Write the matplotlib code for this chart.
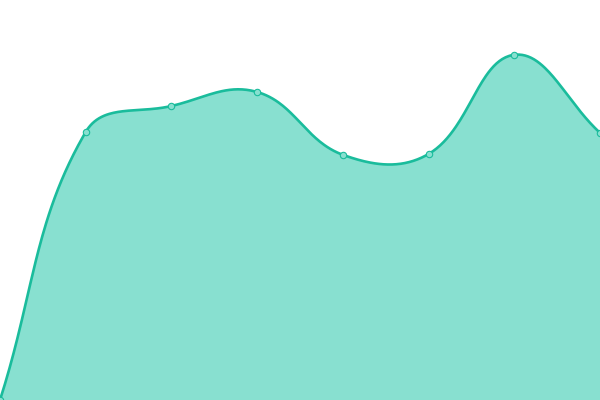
import numpy as np
import matplotlib
matplotlib.use("Agg")
import matplotlib.pyplot as plt

# data (y axis 0..100)
labels = ["1", "2", "3", "4", "5", "6", "7", "8"]
values = [0, 67, 73.5, 77, 61.3, 61.5, 86.3, 66.8]

line_color = "#1abc9c"
fill_color = "#88e0d0"
tension = 0.4

W, H = 600, 400
x = np.arange(len(values))
ymax = 100

# pixel coords, used only to get the spline control points like chart.js does
px = x * W / (len(values) - 1)
py = np.array(values) * H / ymax


def spline_curve(px, py, t):
    # returns list of (c1, c2) control points per segment, in pixel space
    n = len(px)
    prev_cp = []
    next_cp = []
    for i in range(n):
        p0 = np.array([px[max(i - 1, 0)], py[max(i - 1, 0)]])
        p1 = np.array([px[i], py[i]])
        p2 = np.array([px[min(i + 1, n - 1)], py[min(i + 1, n - 1)]])
        d01 = np.hypot(*(p1 - p0))
        d12 = np.hypot(*(p2 - p1))
        tot = d01 + d12
        s01 = d01 / tot if tot else 0
        s12 = d12 / tot if tot else 0
        prev_cp.append(p1 - t * s01 * (p2 - p0))
        next_cp.append(p1 + t * s12 * (p2 - p0))
    return prev_cp, next_cp


prev_cp, next_cp = spline_curve(px, py, tension)

cx, cy = [], []
s = np.linspace(0, 1, 60)
for i in range(len(values) - 1):
    a = np.array([px[i], py[i]])
    b = np.clip(next_cp[i], [0, 0], [W, H])
    c = np.clip(prev_cp[i + 1], [0, 0], [W, H])
    d = np.array([px[i + 1], py[i + 1]])
    pts = ((1 - s) ** 3)[:, None] * a + (3 * (1 - s) ** 2 * s)[:, None] * b \
        + (3 * (1 - s) * s ** 2)[:, None] * c + (s ** 3)[:, None] * d
    cx.extend(pts[:, 0])
    cy.extend(pts[:, 1])

# back to data units
cx = np.array(cx) * (len(values) - 1) / W
cy = np.array(cy) * ymax / H

fig = plt.figure(figsize=(6, 4), dpi=100)
ax = fig.add_axes([0, 0, 1, 1])
ax.fill_between(cx, 0, cy, color=fill_color, linewidth=0)
ax.plot(cx, cy, color=line_color, linewidth=1.9, solid_capstyle="round")
ax.plot(x, values, linestyle="none", marker="o", markersize=4.6,
        markerfacecolor=fill_color, markeredgecolor=line_color, markeredgewidth=0.8)
ax.set_xlim(0, len(values) - 1)
ax.set_ylim(0, ymax)
ax.axis("off")

fig.savefig("out.png", dpi=100)
